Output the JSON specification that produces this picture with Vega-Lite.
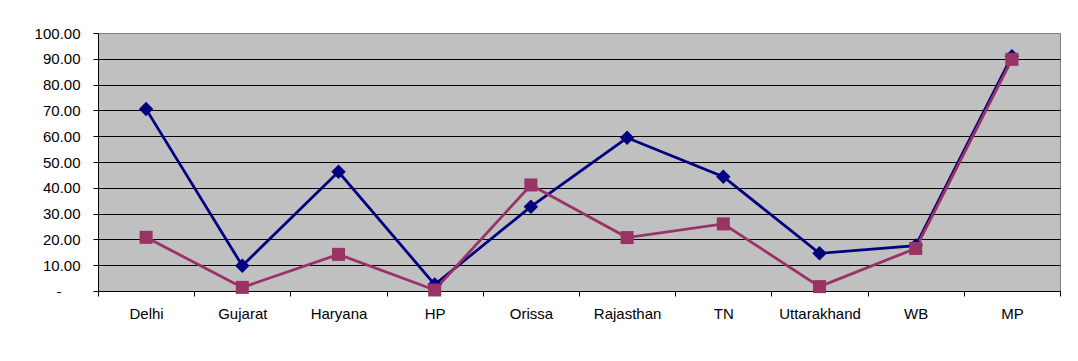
{
  "$schema": "https://vega.github.io/schema/vega-lite/v6.json",
  "autosize": "none",
  "width": 962,
  "height": 258,
  "padding": {"left": 98, "top": 33, "right": 18, "bottom": 70},
  "background": "white",
  "config": {
    "font": "Liberation Sans",
    "view": {"fill": "#C0C0C0", "stroke": "#808080", "strokeWidth": 1},
    "axis": {
      "labelFont": "Liberation Sans",
      "labelFontSize": 15,
      "labelColor": "#000000",
      "domainColor": "#000000",
      "tickColor": "#000000",
      "tickSize": 5,
      "title": null
    }
  },
  "data": {
    "values": [
      {"state": "Delhi", "series": "Series1", "value": 70.5},
      {"state": "Gujarat", "series": "Series1", "value": 9.8},
      {"state": "Haryana", "series": "Series1", "value": 46.2},
      {"state": "HP", "series": "Series1", "value": 2.5},
      {"state": "Orissa", "series": "Series1", "value": 32.7},
      {"state": "Rajasthan", "series": "Series1", "value": 59.4},
      {"state": "TN", "series": "Series1", "value": 44.3},
      {"state": "Uttarakhand", "series": "Series1", "value": 14.6},
      {"state": "WB", "series": "Series1", "value": 17.6},
      {"state": "MP", "series": "Series1", "value": 91.0},
      {"state": "Delhi", "series": "Series2", "value": 20.8},
      {"state": "Gujarat", "series": "Series2", "value": 1.4},
      {"state": "Haryana", "series": "Series2", "value": 14.2},
      {"state": "HP", "series": "Series2", "value": 0.4},
      {"state": "Orissa", "series": "Series2", "value": 41.1},
      {"state": "Rajasthan", "series": "Series2", "value": 20.7},
      {"state": "TN", "series": "Series2", "value": 26.0},
      {"state": "Uttarakhand", "series": "Series2", "value": 1.7},
      {"state": "WB", "series": "Series2", "value": 16.5},
      {"state": "MP", "series": "Series2", "value": 89.8}
    ]
  },
  "encoding": {
    "x": {
      "field": "state",
      "type": "nominal",
      "sort": null,
      "bandPosition": 0.5,
      "scale": {"type": "band", "paddingInner": 0, "paddingOuter": 0},
      "axis": {
        "labelAngle": 0,
        "labelPadding": 10,
        "tickBand": "extent",
        "grid": false,
        "domainWidth": 1
      }
    },
    "y": {
      "field": "value",
      "type": "quantitative",
      "scale": {"domain": [0, 100], "nice": false, "zero": true},
      "axis": {
        "values": [0, 10, 20, 30, 40, 50, 60, 70, 80, 90, 100],
        "labelExpr": "datum.value == 0 ? '-' : format(datum.value, '.2f')",
        "labelPadding": {"condition": {"test": "datum.value === 0", "value": 32}, "value": 13},
        "grid": true,
        "gridColor": {"condition": {"test": "datum.value === 100", "value": "#808080"}, "value": "#000000"},
        "gridWidth": 1,
        "gridOpacity": 1
      }
    },
    "color": {
      "field": "series",
      "type": "nominal",
      "scale": {"domain": ["Series1", "Series2"], "range": ["#000080", "#993366"]},
      "legend": null
    }
  },
  "layer": [
    {
      "mark": {"type": "line", "strokeWidth": 2.8}
    },
    {
      "mark": {"type": "point", "filled": true, "opacity": 1},
      "encoding": {
        "shape": {
          "field": "series",
          "type": "nominal",
          "scale": {"domain": ["Series1", "Series2"], "range": ["diamond", "square"]},
          "legend": null
        },
        "size": {
          "field": "series",
          "type": "nominal",
          "scale": {"domain": ["Series1", "Series2"], "range": [210, 170]},
          "legend": null
        }
      }
    }
  ]
}
